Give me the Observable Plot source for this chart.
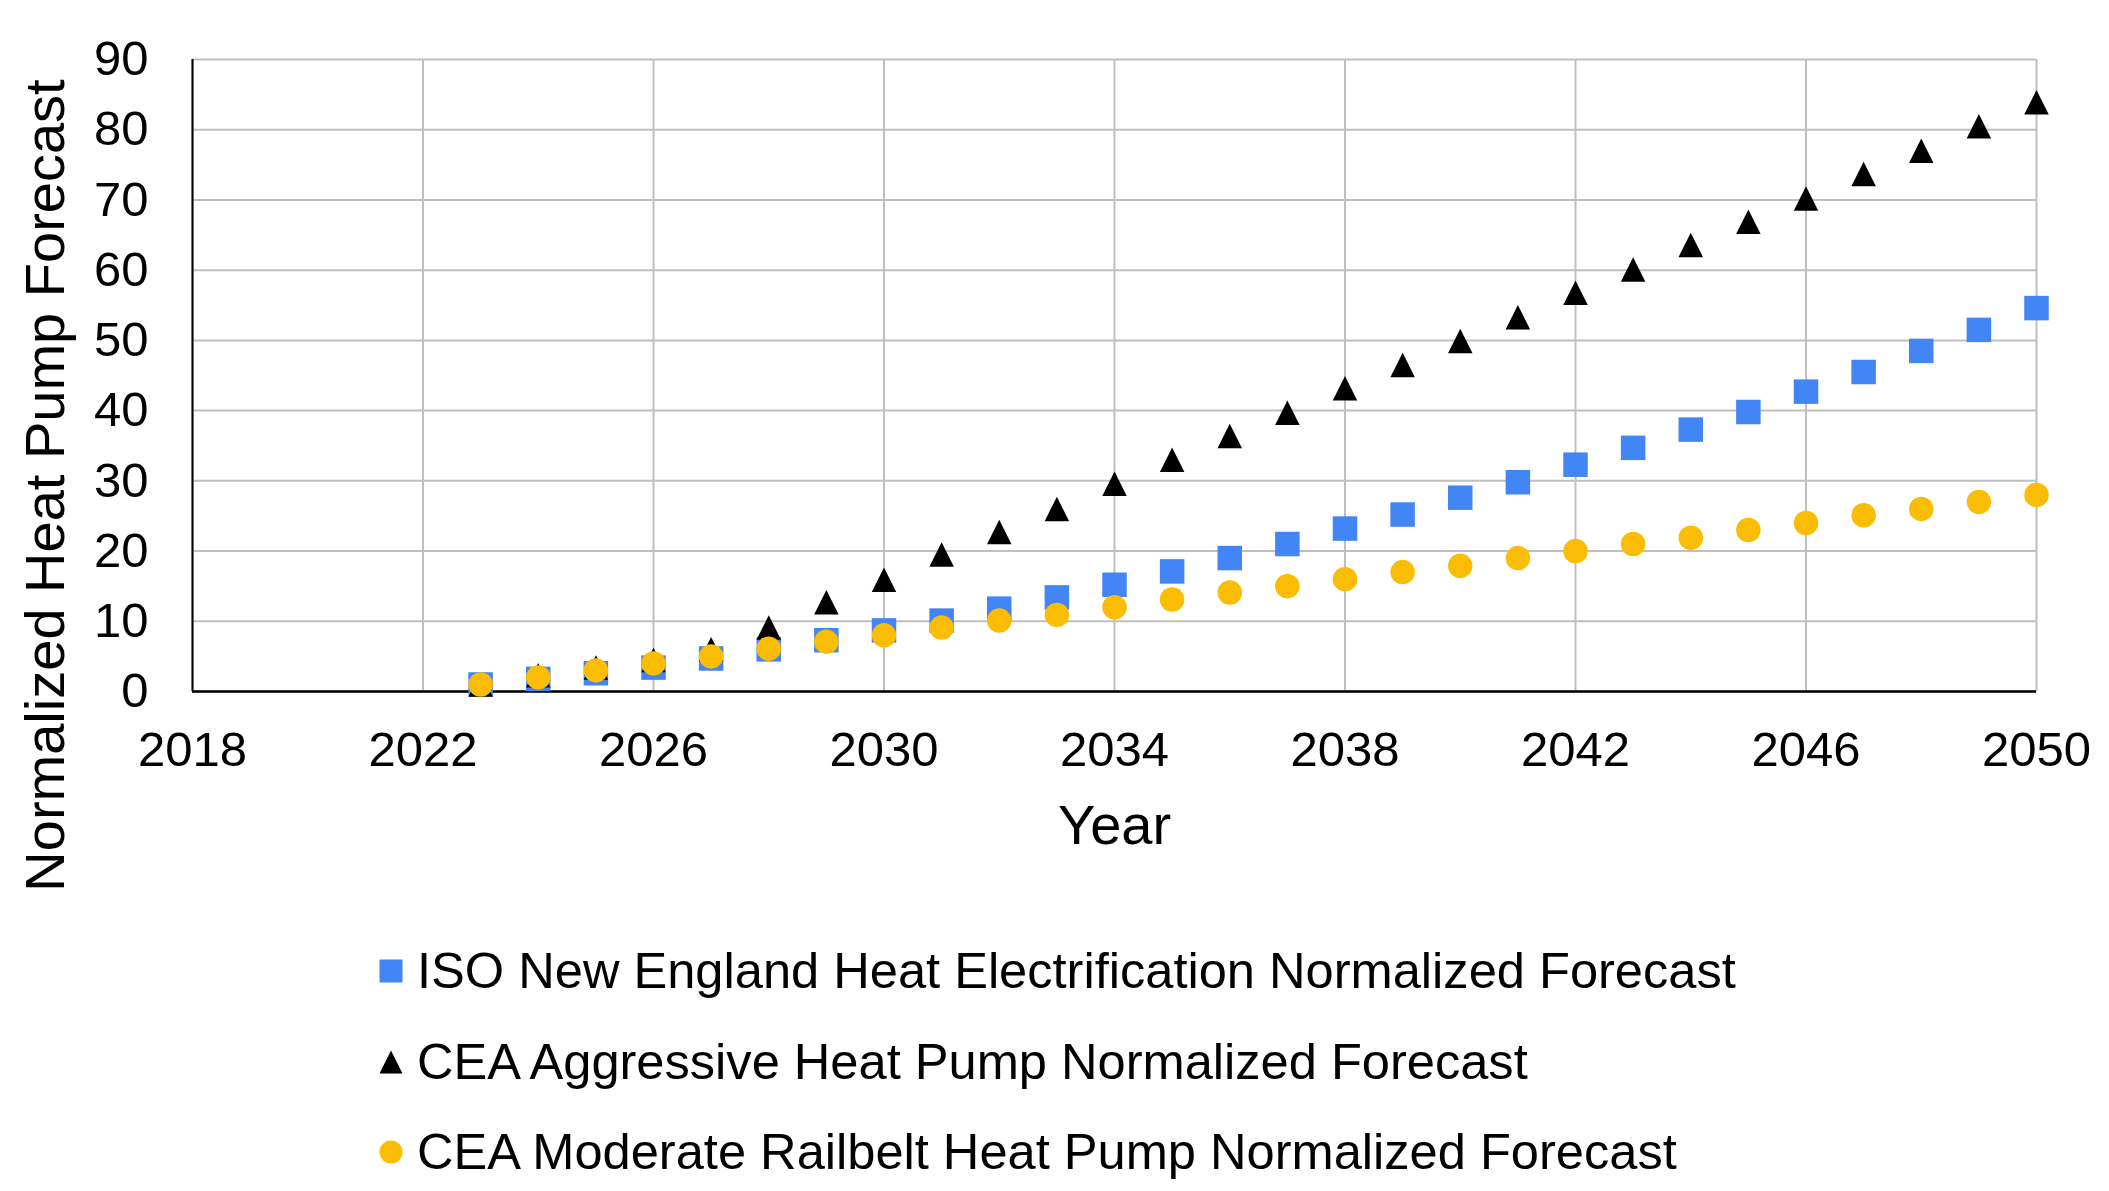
<!DOCTYPE html>
<html>
<head>
<meta charset="utf-8">
<script src="https://cdn.jsdelivr.net/npm/d3@7"></script>
<script src="https://cdn.jsdelivr.net/npm/@observablehq/plot@0.6"></script>
<style>
  html, body { margin: 0; padding: 0; background: #ffffff; }
  body { width: 2109px; height: 1191px; position: relative; overflow: hidden; font-family: "Liberation Sans", Arial, sans-serif; }
  #chart { position: absolute; left: 0; top: 0; }
  .legend-row { position: absolute; height: 60px; display: flex; align-items: center; font-size: 50.6px; line-height: 60px; color: #000; white-space: nowrap; }
  .legend-row svg { display: block; }
</style>
</head>
<body>
<div id="chart"></div>
<script>
// ---- Data ----
const years = [2023, 2024, 2025, 2026, 2027, 2028, 2029, 2030, 2031, 2032, 2033, 2034, 2035, 2036,
               2037, 2038, 2039, 2040, 2041, 2042, 2043, 2044, 2045, 2046, 2047, 2048, 2049, 2050];
const isoValues = [1.0, 1.8, 2.6, 3.4, 4.7, 6.0, 7.3, 8.7, 10.1, 11.8, 13.4, 15.2, 17.1, 19.0,
                   21.0, 23.2, 25.2, 27.6, 29.8, 32.3, 34.7, 37.3, 39.8, 42.7, 45.5, 48.5, 51.5, 54.6];
const aggressiveValues = [1.0, 2.3, 3.4, 4.5, 6.0, 9.1, 12.7, 15.9, 19.5, 22.7, 26.0, 29.6, 33.0, 36.4,
                          39.7, 43.2, 46.5, 49.9, 53.3, 56.8, 60.1, 63.6, 66.9, 70.2, 73.7, 77.0, 80.5, 83.9];
const moderateValues = [1.0, 2.0, 3.0, 4.0, 5.0, 6.1, 7.1, 8.0, 9.1, 10.1, 10.9, 12.0, 13.1, 14.1,
                        15.0, 16.0, 17.0, 17.9, 19.0, 20.0, 21.0, 21.9, 23.0, 24.0, 25.1, 26.0, 27.0, 28.0];
const seriesNames = [
  "ISO New England Heat Electrification Normalized Forecast",
  "CEA Aggressive Heat Pump Normalized Forecast",
  "CEA Moderate Railbelt Heat Pump Normalized Forecast"
];
const xTicks = [2018, 2022, 2026, 2030, 2034, 2038, 2042, 2046, 2050];
const yTicks = [0, 10, 20, 30, 40, 50, 60, 70, 80, 90];
const xTitle = "Year";
const yTitle = "Normalized Heat Pump Forecast";

// ---- Styling ----
const colors = ["#4285F4", "#000000", "#FBBC04"];
const half = (size) => Math.sqrt(size / Math.PI);
const squareSym = { draw(ctx, size) { const r = half(size); ctx.rect(-r, -r, 2 * r, 2 * r); } };
const triangleSym = { draw(ctx, size) { const r = half(size); ctx.moveTo(0, -r); ctx.lineTo(r, r); ctx.lineTo(-r, r); ctx.closePath(); } };
const circleSym = { draw(ctx, size) { const r = half(size); ctx.moveTo(r, 0); ctx.arc(0, 0, r, 0, 2 * Math.PI); } };
const symbols = [squareSym, triangleSym, circleSym];

const seriesValues = [isoValues, aggressiveValues, moderateValues];
const tables = seriesValues.map((vals, s) => years.map((yr, i) => ({ year: yr, value: vals[i], series: seriesNames[s] })));

const W = 2109, H = 880;
const chart = Plot.plot({
  width: W,
  height: H,
  marginTop: 59,
  marginBottom: 189,
  marginLeft: 192,
  marginRight: 73,
  x: { domain: [2018, 2050] },
  y: { domain: [0, 90] },
  style: { fontFamily: "'Liberation Sans', Arial, sans-serif", fontSize: "49px", color: "#000", background: "#fff", overflow: "visible" },
  marks: [
    Plot.gridX(xTicks, { stroke: "#bfbfbf", strokeOpacity: 1, strokeWidth: 2 }),
    Plot.gridY(yTicks, { stroke: "#bfbfbf", strokeOpacity: 1, strokeWidth: 2 }),
    Plot.ruleX([2018], { stroke: "#000", strokeWidth: 2 }),
    Plot.ruleY([0], { stroke: "#000", strokeWidth: 2.5 }),
    Plot.axisX(xTicks, { tickSize: 0, tickPadding: 40, tickFormat: (d) => String(d), label: null, fontSize: 49 }),
    Plot.axisY(yTicks, { tickSize: 0, tickPadding: 44, tickFormat: (d) => String(d), label: null, fontSize: 49 }),
    ...tables.map((t, s) => Plot.dot(t, {
      x: "year", y: "value", symbol: () => symbols[s], r: 12.25, fill: colors[s], stroke: "none"
    })),
    Plot.text([xTitle], { text: (d) => d, frameAnchor: "bottom", dy: 135, fontSize: 56, textAnchor: "middle", lineAnchor: "middle", fill: "#000" }),
    Plot.text([yTitle], { text: (d) => d, frameAnchor: "left", dx: -146, dy: 110, rotate: -90, fontSize: 56, textAnchor: "middle", lineAnchor: "middle", fill: "#000" })
  ]
});
document.getElementById("chart").appendChild(chart);

// ---- Legend (below the SVG) ----
const legendCenters = [971, 1062, 1152];
seriesNames.forEach((name, s) => {
  const row = document.createElement("div");
  row.className = "legend-row";
  row.style.left = "378px";
  row.style.top = (legendCenters[s] - 30) + "px";
  const svg = d3.create("svg").attr("width", 26).attr("height", 26).style("margin-right", "13px");
  const r = 11.5;
  svg.append("path")
    .attr("transform", "translate(13,13)")
    .attr("d", d3.symbol(symbols[s], r * r * Math.PI)())
    .attr("fill", colors[s]);
  row.appendChild(svg.node());
  const span = document.createElement("span");
  span.textContent = name;
  row.appendChild(span);
  document.body.appendChild(row);
});
</script>
</body>
</html>
